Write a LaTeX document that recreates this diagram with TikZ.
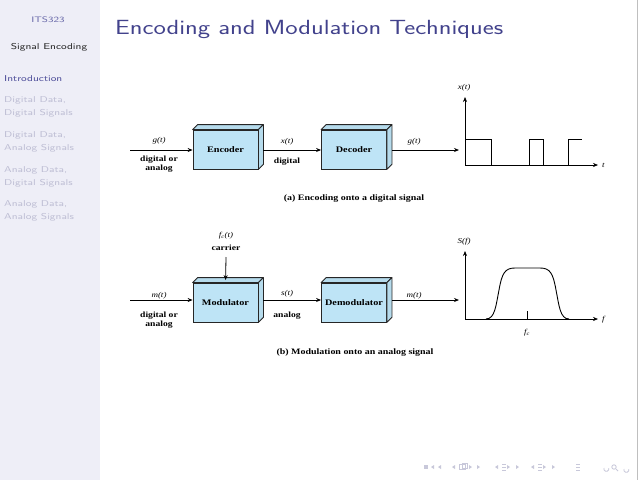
\documentclass[tikz,border=0pt]{standalone}
\usepackage{fontspec}
\newfontfamily\tms{Liberation Serif}
\usetikzlibrary{calc,arrows.meta}
\definecolor{sidebg}{RGB}{238,238,247}
\definecolor{titlecol}{RGB}{66,66,140}
\definecolor{introcol}{RGB}{80,80,155}
\definecolor{fadecol}{RGB}{190,190,212}
\definecolor{boxblue}{RGB}{190,228,246}
\definecolor{navcol}{RGB}{200,200,218}
\newcommand{\sx}[1]{\scalebox{1.3}[1]{#1}}
\newcommand{\tx}[1]{\scalebox{1.2}[1]{#1}}
\tikzset{
  blk/.style={draw=black!85, fill=boxblue, line width=0.8pt, minimum width=65pt, minimum height=39pt, inner sep=0pt, font=\tms\bfseries\fontsize{8.5}{10}\selectfont},
  face/.style={draw=black!85, fill=boxblue!80!black!20!boxblue, line width=0.8pt, line join=round},
  arr/.style={line width=0.8pt, -{Stealth[length=5pt,width=4pt]}},
  lbl/.style={font=\tms\itshape\fontsize{7.5}{9}\selectfont, inner sep=0pt},
  blbl/.style={font=\tms\bfseries\fontsize{8}{9}\selectfont, inner sep=0pt, align=center},
  captxt/.style={font=\tms\bfseries\fontsize{8.3}{10}\selectfont, inner sep=0pt},
  side/.style={font=\sffamily\fontsize{8.5}{13.5}\selectfont, inner sep=0pt, anchor=north west, align=left},
  sig/.style={line width=0.9pt, line join=miter},
  nav/.style={fill=navcol, draw=none}
}
\newcommand{\boxthree}[1]{%
  \draw[face] (#1.north west) -- ++(5,-5) -- ($(#1.north east)+(5,-5)$) -- (#1.north east) -- cycle;
  \draw[face] (#1.north east) -- ++(5,-5) -- ($(#1.south east)+(5,-5)$) -- (#1.south east) -- cycle;}
\begin{document}
\begin{tikzpicture}[x=1pt,y=-1pt]
\useasboundingbox (0,0) rectangle (640,480);
\fill[white] (0,0) rectangle (640,480);
\fill[sidebg] (0,0) rectangle (100,480);
\draw[black!25, line width=0.6pt] (637.5,0) -- (637.5,480);
% sidebar
\node[font=\sffamily\fontsize{8}{10}\selectfont, text=introcol!85, inner sep=0pt] (its) at (48,20) {\sx{ITS323}};
\node[font=\sffamily\fontsize{8.5}{10}\selectfont, text=black!85, inner sep=0pt] (se) at (49,47) {\sx{Signal Encoding}};
\node[side, text=introcol] (intro) at (4,75) {\sx{Introduction}};
\node[side, text=fadecol] (s1) at (4,96) {\sx{Digital Data,}\\\sx{Digital Signals}};
\node[side, text=fadecol] (s2) at (4,131) {\sx{Digital Data,}\\\sx{Analog Signals}};
\node[side, text=fadecol] (s3) at (4,166) {\sx{Analog Data,}\\\sx{Digital Signals}};
\node[side, text=fadecol] (s4) at (4,200) {\sx{Analog Data,}\\\sx{Analog Signals}};
% title
\node[font=\sffamily\fontsize{20.5}{24}\selectfont, text=titlecol, anchor=west, inner sep=0pt] (title) at (115,29) {\scalebox{1.28}[1]{Encoding and Modulation Techniques}};
% ---------- (a) ----------
\node[blk] (enc) at (225.5,149.5) {\tx{Encoder}};
\boxthree{enc}
\node[blk] (dec) at (354,149.5) {\tx{Decoder}};
\boxthree{dec}
\coordinate (ina) at (130,150);
\coordinate (outa) at (459,150);
\draw[arr] (ina) -- (enc.west |- ina);
\draw[arr] ($(enc.east |- ina)+(5,0)$) -- (dec.west |- ina);
\draw[arr] ($(dec.east |- ina)+(5,0)$) -- (outa);
\node[lbl] (ga) at (159,141) {\tx{g(t)}};
\node[blbl] (da) at (159,164) {\tx{digital or}\\\tx{analog}};
\node[lbl] (xa) at (287,142) {\tx{x(t)}};
\node[blbl] (dga) at (287,162) {\tx{digital}};
\node[lbl] (goa) at (414,142) {\tx{g(t)}};
\node[captxt] (capa) at (354,199) {\tx{(a) Encoding onto a digital signal}};
% graph a
\coordinate (oa) at (465,165);
\coordinate (ya) at (465,97);
\coordinate (xae) at (598,165);
\draw[arr, line width=0.6pt] (oa) -- (ya);
\draw[arr, line width=0.6pt] (oa) -- (xae);
\node[lbl] (xt) at (464,88) {\tx{x(t)}};
\node[lbl, anchor=west] (tt) at (602,165) {\tx{t}};
\draw[sig] (465,139) -- (491,139) -- (491,165) -- (529,165) -- (529,139) -- (543,139) -- (543,165) -- (568,165) -- (568,139) -- (582,139);
% ---------- (b) ----------
\node[blk] (mod) at (225.5,302.5) {\tx{Modulator}};
\boxthree{mod}
\node[blk] (dem) at (354,302.5) {\tx{Demodulator}};
\boxthree{dem}
\coordinate (inb) at (130,300);
\coordinate (outb) at (459,300);
\coordinate (carr) at (226,257);
\draw[arr] (inb) -- (mod.west |- inb);
\draw[arr] ($(mod.east |- inb)+(5,0)$) -- (dem.west |- inb);
\draw[arr] ($(dem.east |- inb)+(5,0)$) -- (outb);
\draw[arr] (carr) -- ($(mod.north west)+(33,-2.5)$);
\node[lbl] (fc) at (226,236) {\tx{f\textsubscript{c}(t)}};
\node[blbl] (cr) at (226,248) {\tx{carrier}};
\node[lbl] (mb) at (159,296) {\tx{m(t)}};
\node[blbl] (db) at (159,320) {\tx{digital or}\\\tx{analog}};
\node[lbl] (sb) at (287,294) {\tx{s(t)}};
\node[blbl] (agb) at (287,316) {\tx{analog}};
\node[lbl] (mob) at (414,296) {\tx{m(t)}};
\node[captxt] (capb) at (355,353) {\tx{(b) Modulation onto an analog signal}};
% graph b
\coordinate (ob) at (465,319);
\coordinate (yb) at (465,251);
\coordinate (xbe) at (598,319);
\draw[arr, line width=0.6pt] (ob) -- (yb);
\draw[arr, line width=0.6pt] (ob) -- (xbe);
\node[lbl] (sf) at (464,242) {\tx{S(f)}};
\node[lbl, anchor=west] (ff) at (602,320) {\tx{f}};
\draw[line width=0.6pt] (527,311) -- (527,319);
\node[lbl] (fcb) at (527,333) {\tx{f\textsubscript{c}}};
\draw[sig, line join=round] (486,319) .. controls (495,319) and (496,305) .. (499,290) .. controls (502,273) and (505,268) .. (515,268) -- (540,268) .. controls (550,268) and (553,273) .. (556,290) .. controls (559,305) and (560,319) .. (569,319);
% navigation symbols
\begin{scope}[navcol]
\fill[nav] (424,465) rectangle (428,469);
\fill[nav] (431,467) -- (434,465) -- (434,469) -- cycle;
\fill[nav] (438,467) -- (441,465) -- (441,469) -- cycle;
\fill[nav] (452,467) -- (455,465) -- (455,469) -- cycle;
\draw[navcol, line width=0.8pt] (459,464.5) rectangle (465,469.5);
\draw[navcol, line width=0.8pt] (462,463) rectangle (467,468);
\fill[nav] (472,467) -- (469,465) -- (469,469) -- cycle;
\fill[nav] (480,467) -- (477,465) -- (477,469) -- cycle;
\fill[nav] (495,467) -- (498,465) -- (498,469) -- cycle;
\draw[navcol, line width=0.8pt] (502,464) -- (506,464) (502,467) -- (506,467) (502,470) -- (506,470);
\fill[nav] (510,467) -- (507,465) -- (507,469) -- cycle;
\fill[nav] (519,467) -- (516,465) -- (516,469) -- cycle;
\fill[nav] (531,467) -- (534,465) -- (534,469) -- cycle;
\draw[navcol, line width=0.8pt] (538,464) -- (542,464) (538,467) -- (542,467) (538,470) -- (542,470);
\fill[nav] (546,467) -- (543,465) -- (543,469) -- cycle;
\fill[nav] (555,467) -- (552,465) -- (552,469) -- cycle;
\draw[navcol, line width=0.8pt] (576,464) -- (580,464) (576,467) -- (580,467) (576,470) -- (580,470);
\draw[navcol, line width=0.8pt] (604,468) arc (200:-20:2.5);
\draw[navcol, line width=0.8pt] (614,467) circle (2.2);
\draw[navcol, line width=0.8pt] (616,469) -- (618,471);
\draw[navcol, line width=0.8pt] (624,469) arc (200:-20:2.5);
\end{scope}
\end{tikzpicture}
\end{document}
